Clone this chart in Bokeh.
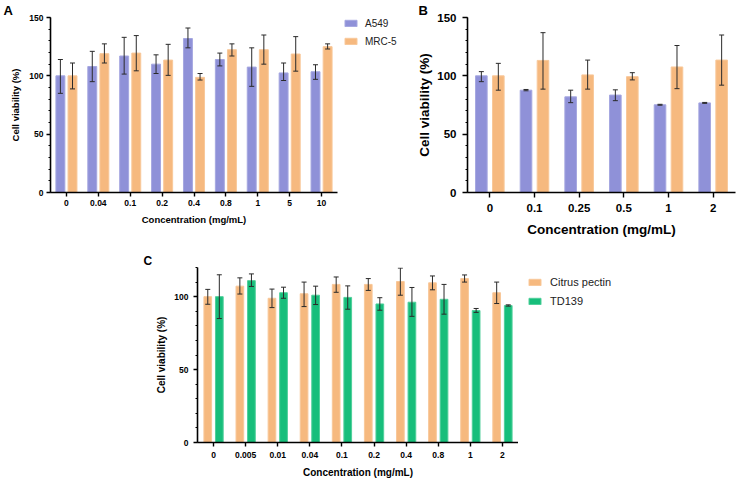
from bokeh.plotting import figure
from bokeh.models import (ColumnDataSource, FactorRange, Whisker, TeeHead, Legend,
                          LegendItem, SingleIntervalTicker, Range1d, Spacer, Title)
from bokeh.transform import dodge
from bokeh.layouts import row, column
from bokeh.embed import file_html
from bokeh.resources import INLINE

# ---------------- data ----------------
a_conc = ["0", "0.04", "0.1", "0.2", "0.4", "0.8", "1", "5", "10"]
a_a549 = [100, 108, 117, 110, 132, 114, 107.5, 102.5, 103.5]
a_a549_hi = [114, 121, 133, 118, 141, 119.5, 124, 111, 109.5]
a_a549_lo = [85, 95, 101.5, 102, 124, 108.5, 91, 96, 97]
a_mrc5 = [100, 119, 119.5, 113.5, 98.7, 122.4, 122.4, 118.7, 125]
a_mrc5_hi = [111, 127.4, 134.5, 127, 102, 127.4, 135, 133.6, 127.4]
a_mrc5_lo = [88.8, 111, 104.3, 100.4, 96.4, 117, 110, 104, 123]

b_conc = ["0", "0.1", "0.25", "0.5", "1", "2"]
b_a549 = [100, 87.7, 82, 83.5, 75.2, 76.8]
b_a549_hi = [103.6, 88.3, 87.7, 88, 75.6, 77.2]
b_a549_lo = [95, 87.2, 77, 78.7, 74.8, 76.4]
b_mrc5 = [100, 113.2, 100.8, 99.3, 107.6, 113.5]
b_mrc5_hi = [110.7, 137, 113.5, 102.7, 126, 135]
b_mrc5_lo = [87.7, 88.6, 88.6, 96.5, 89, 92]

c_conc = ["0", "0.005", "0.01", "0.04", "0.1", "0.2", "0.4", "0.8", "1", "2"]
c_pectin = [100, 107.2, 98.9, 102, 108.4, 108.4, 110.4, 109.5, 112.4, 102.7]
c_pectin_hi = [105, 112.9, 105.2, 110, 113.5, 112.4, 119.6, 114.2, 114.9, 110]
c_pectin_lo = [94.8, 101.8, 92.5, 93.2, 103, 104.3, 101, 104.7, 110, 95.3]
c_td139 = [100, 111, 102.7, 101, 99.5, 95, 96.2, 98.2, 90.5, 93.9]
c_td139_hi = [115, 115.6, 106.5, 107.2, 107.4, 99.3, 106.3, 108.4, 91.9, 94.4]
c_td139_lo = [85, 107, 98.9, 94.6, 91.4, 90.7, 86.5, 88, 89.2, 93.5]

x_title = "Concentration (mg/mL)"
y_title = "Cell viability (%)"

BLUE, BLUE_E = "#8f91d8", "#a5a7e0"
ORANGE, ORANGE_E = "#f6b97f", "#f8c89a"
GREEN, GREEN_E = "#17be7b", "#4fcf9a"
ERR = "#2a2a2a"
FONT = "Liberation Sans"


def make_source(cats, s1, s1_hi, s1_lo, s2, s2_hi, s2_lo):
    return ColumnDataSource(dict(x=cats, v1=s1, h1=s1_hi, l1=s1_lo, v2=s2, h2=s2_hi, l2=s2_lo))


def add_bars(p, src, colors, off, bw):
    r1 = p.vbar(x=dodge("x", -off, range=p.x_range), top="v1", width=bw, source=src,
                fill_color=colors[0][0], line_color=colors[0][1], line_width=1)
    r2 = p.vbar(x=dodge("x", off, range=p.x_range), top="v2", width=bw, source=src,
                fill_color=colors[1][0], line_color=colors[1][1], line_width=1)
    return r1, r2


def panel(src, cats, colors, fw, fh, borders, ymax, off, bw, tick_fs, lab_fs, tick_out,
          tick_sd, lab_sd_x, lab_sd_y, letter, letter_off, letter_fs, letter_sd):
    p = figure(x_range=FactorRange(factors=cats, range_padding=0), y_range=Range1d(0, ymax),
               frame_width=fw, frame_height=fh, output_backend="svg", toolbar_location=None,
               min_border_left=borders[0], min_border_right=borders[1],
               min_border_top=borders[2], min_border_bottom=borders[3])
    p.outline_line_color = None
    p.xgrid.grid_line_color = None
    p.ygrid.grid_line_color = None
    add_bars(p, src, colors, off, bw)
    for sign, hi, lo in ((-1, "h1", "l1"), (1, "h2", "l2")):
        w = Whisker(base=dodge("x", sign * off, range=p.x_range), upper=hi, lower=lo,
                    source=src, dimension="height", line_color=ERR, line_width=1,
                    upper_head=TeeHead(size=5, line_color=ERR, line_width=1),
                    lower_head=TeeHead(size=5, line_color=ERR, line_width=1),
                    level="overlay")
        p.add_layout(w)
    p.yaxis.ticker = SingleIntervalTicker(interval=50, num_minor_ticks=5)
    for ax in (p.xaxis[0], p.yaxis[0]):
        ax.axis_line_color = "black"
        ax.axis_line_width = 1.6
        ax.major_tick_line_color = "black"
        ax.major_tick_line_width = 1.4
        ax.major_tick_in = 0
        ax.major_tick_out = tick_out
        ax.minor_tick_in = 0
        ax.minor_tick_out = 2
        ax.minor_tick_line_color = "black"
        ax.major_label_text_font = FONT
        ax.major_label_text_font_style = "bold"
        ax.major_label_text_font_size = tick_fs
        ax.major_label_text_color = "black"
        ax.major_label_standoff = tick_sd
        ax.axis_label_text_font = FONT
        ax.axis_label_text_font_style = "bold"
        ax.axis_label_text_font_size = lab_fs
        ax.axis_label_text_color = "black"
    p.xaxis.axis_label = x_title
    p.yaxis.axis_label = y_title
    p.xaxis.axis_label_standoff = lab_sd_x
    p.yaxis.axis_label_standoff = lab_sd_y
    p.title = Title(text=letter, align="left", offset=letter_off, text_font=FONT,
                    text_font_style="bold", text_font_size=letter_fs, text_color="black",
                    standoff=letter_sd)
    return p


def legend_fig(src, colors, names, width, height, left, margin, spacing, standoff, fs):
    # key-only figure: its x range holds none of the concentrations, so the bars that feed
    # the legend keys are not placed anywhere inside it; only the keys are drawn
    lf = figure(x_range=FactorRange(factors=["key"], range_padding=0), y_range=Range1d(0, 150),
                width=width, height=height, output_backend="svg", toolbar_location=None,
                min_border_left=left, min_border_right=0, min_border_top=0,
                min_border_bottom=0)
    lf.axis.visible = False
    lf.grid.visible = False
    lf.outline_line_color = None
    r1, r2 = add_bars(lf, src, colors, 0.2, 0.2)
    leg = Legend(items=[LegendItem(label=names[0], renderers=[r1]),
                        LegendItem(label=names[1], renderers=[r2])],
                 location="top_left", border_line_color=None, background_fill_alpha=0,
                 margin=margin, padding=0, spacing=spacing, glyph_width=15, glyph_height=8,
                 label_height=12, label_standoff=standoff, label_text_font=FONT,
                 label_text_font_size=fs, label_text_color="#222222")
    lf.add_layout(leg)
    return lf


srcA = make_source(a_conc, a_a549, a_a549_hi, a_a549_lo, a_mrc5, a_mrc5_hi, a_mrc5_lo)
srcB = make_source(b_conc, b_a549, b_a549_hi, b_a549_lo, b_mrc5, b_mrc5_hi, b_mrc5_lo)
srcC = make_source(c_conc, c_pectin, c_pectin_hi, c_pectin_lo, c_td139, c_td139_hi, c_td139_lo)
colAB = [(BLUE, BLUE_E), (ORANGE, ORANGE_E)]
colC = [(ORANGE, ORANGE_E), (GREEN, GREEN_E)]

pA = panel(srcA, a_conc, colAB, fw=287, fh=175, borders=(50, 3, 15, 50), ymax=150,
           off=0.19, bw=0.28, tick_fs="8.5px", lab_fs="9.5px", tick_out=4, tick_sd=3,
           lab_sd_x=5, lab_sd_y=5, letter="A", letter_off=-47, letter_fs="13px", letter_sd=0)
legA = legend_fig(srcA, colAB, ["A549", "MRC-5"], width=70, height=244,
                  left=3, margin=0, spacing=6, standoff=7, fs="10px")

pB = panel(srcB, b_conc, colAB, fw=268, fh=175, borders=(57, 2, 16, 50), ymax=150,
           off=0.19, bw=0.26, tick_fs="11.5px", lab_fs="13.5px", tick_out=5, tick_sd=6,
           lab_sd_x=7, lab_sd_y=2, letter="B", letter_off=-49, letter_fs="13px", letter_sd=0)

pC = panel(srcC, c_conc, colC, fw=321, fh=175, borders=(57, 0, 23, 37), ymax=120,
           off=0.18, bw=0.24, tick_fs="8.5px", lab_fs="10px", tick_out=4, tick_sd=5,
           lab_sd_x=6, lab_sd_y=4, letter="C", letter_off=-54, letter_fs="12px", letter_sd=0)
legC = legend_fig(srcC, colC, ["Citrus pectin", "TD139"], width=200, height=235,
                  left=0, margin=9, spacing=7, standoff=8, fs="11px")

layout = column(row(pA, legA, pB), row(Spacer(width=140, height=235), pC, legC))

open("out.html", "w").write(file_html(layout, INLINE))
